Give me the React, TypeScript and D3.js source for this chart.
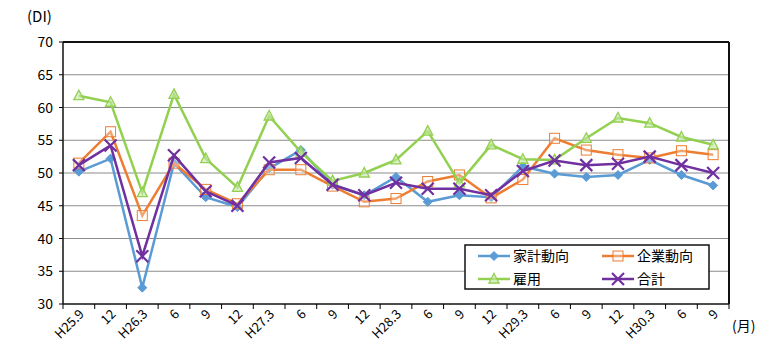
import React from "react";
import * as d3 from "d3";

const categories = ["H25.9", "12", "H26.3", "6", "9", "12", "H27.3", "6", "9", "12", "H28.3", "6", "9", "12", "H29.3", "6", "9", "12", "H30.3", "6", "9"];
const kakei = [50.2, 52.2, 32.5, 51.5, 46.3, 44.8, 50.7, 53.5, 48.2, 46.6, 49.4, 45.6, 46.6, 46.3, 51.0, 49.9, 49.4, 49.7, 52.0, 49.7, 48.1];
const kigyo = [51.5, 56.3, 43.5, 51.5, 47.5, 45.3, 50.5, 50.5, 48.0, 45.6, 46.1, 48.7, 49.7, 46.2, 49.0, 55.3, 53.5, 52.8, 52.3, 53.4, 52.8];
const koyo = [61.8, 60.8, 47.0, 62.0, 52.2, 47.8, 58.7, 53.2, 48.8, 50.0, 52.0, 56.4, 48.5, 54.3, 52.1, 52.0, 55.3, 58.4, 57.6, 55.5, 54.3];
const gokei = [51.2, 54.2, 37.3, 52.7, 47.2, 45.0, 51.6, 52.3, 48.2, 46.6, 48.5, 47.6, 47.6, 46.6, 50.3, 51.9, 51.2, 51.4, 52.5, 51.2, 50.0];
const yTicks = [30, 35, 40, 45, 50, 55, 60, 65, 70];

const series = [
  { name: "家計動向", values: kakei, color: "#5B9BD5", marker: "diamond" },
  { name: "企業動向", values: kigyo, color: "#ED7D31", marker: "square" },
  { name: "雇用", values: koyo, color: "#92D050", marker: "triangle" },
  { name: "合計", values: gokei, color: "#7030A0", marker: "x" },
];

const font = "'Noto Sans CJK JP', 'DejaVu Sans', sans-serif";

function Marker({ type, x, y, color }: { type: string; x: number; y: number; color: string }) {
  if (type === "diamond") {
    return <path d={`M${x},${y - 4.5}L${x + 4.5},${y}L${x},${y + 4.5}L${x - 4.5},${y}Z`} fill={color} stroke={color} strokeWidth={1} />;
  }
  if (type === "square") {
    return <rect x={x - 5} y={y - 5} width={10} height={10} fill="#fff" fillOpacity={0.3} stroke={color} strokeWidth={1} />;
  }
  if (type === "triangle") {
    return <path d={`M${x},${y - 5.5}L${x + 5},${y + 4}L${x - 5},${y + 4}Z`} fill="#c6e6a5" fillOpacity={0.6} stroke={color} strokeWidth={1.3} />;
  }
  return (
    <path d={`M${x - 6},${y - 6}L${x + 6},${y + 6}M${x + 6},${y - 6}L${x - 6},${y + 6}`} stroke={color} strokeWidth={2.2} />
  );
}

export default function App() {
  const width = 778, height = 358;
  const left = 63, right = 729, top = 42, bottom = 304;

  const x = d3.scaleBand().domain(categories.map((c, i) => String(i))).range([left, right]);
  const y = d3.scaleLinear().domain([30, 70]).range([bottom, top]);
  const cx = (i: number) => (x(String(i)) as number) + x.bandwidth() / 2;
  const line = d3.line<number>().x((d, i) => cx(i)).y((d) => y(d));

  return (
    <svg width={width} height={height} style={{ position: "absolute", left: 0, top: 0 }} fontFamily={font}>
      <rect width={width} height={height} fill="#fff" />
      {yTicks.map((t) => (
        <g key={t}>
          {t > 30 && t < 70 && <line x1={left} x2={right} y1={y(t)} y2={y(t)} stroke="#8c8c8c" strokeWidth={1.2} />}
          <line x1={left - 4} x2={left} y1={y(t)} y2={y(t)} stroke="#000" />
          <text x={left - 10} y={y(t) + 5} textAnchor="end" fontSize={14}>{t}</text>
        </g>
      ))}
      <line x1={left} x2={right} y1={top} y2={top} stroke="#111" strokeWidth={2} />
      <line x1={right} x2={right} y1={top} y2={bottom} stroke="#111" strokeWidth={2} />
      <line x1={left} x2={left} y1={top} y2={bottom} stroke="#111" strokeWidth={1.5} />
      <line x1={left} x2={right} y1={bottom} y2={bottom} stroke="#111" strokeWidth={1.5} />
      {categories.map((c, i) => (
        <line key={"t" + i} x1={x(String(i)) as number} x2={x(String(i)) as number} y1={bottom} y2={bottom + 5} stroke="#000" />
      ))}
      <line x1={right} x2={right} y1={bottom} y2={bottom + 5} stroke="#000" />
      {categories.map((c, i) => (
        <text key={"l" + i} transform={`translate(${cx(i) + 6},${bottom + 11}) rotate(-45)`} textAnchor="end" fontSize={13}>{c}</text>
      ))}
      <text x={27} y={22} fontSize={15}>(DI)</text>
      <text x={732} y={331} fontSize={14}>(月)</text>

      {series.map((s) => (
        <g key={s.name}>
          <path d={line(s.values) || ""} fill="none" stroke={s.color} strokeWidth={2.5} />
          {s.values.map((v, i) => (
            <Marker key={i} type={s.marker} x={cx(i)} y={y(v)} color={s.color} />
          ))}
        </g>
      ))}

      <g>
        <rect x={465} y={245} width={244} height={44} fill="#fff" stroke="#111" strokeWidth={1.5} />
        {series.map((s, i) => {
          const lx = i % 2 === 0 ? 478 : 602;
          const ly = i < 2 ? 256 : 279;
          return (
            <g key={"lg" + s.name}>
              <line x1={lx} x2={lx + 32} y1={ly} y2={ly} stroke={s.color} strokeWidth={2.5} />
              <Marker type={s.marker} x={lx + 16} y={ly} color={s.color} />
              <text x={lx + 35} y={ly + 5} fontSize={14}>{s.name}</text>
            </g>
          );
        })}
      </g>
    </svg>
  );
}
